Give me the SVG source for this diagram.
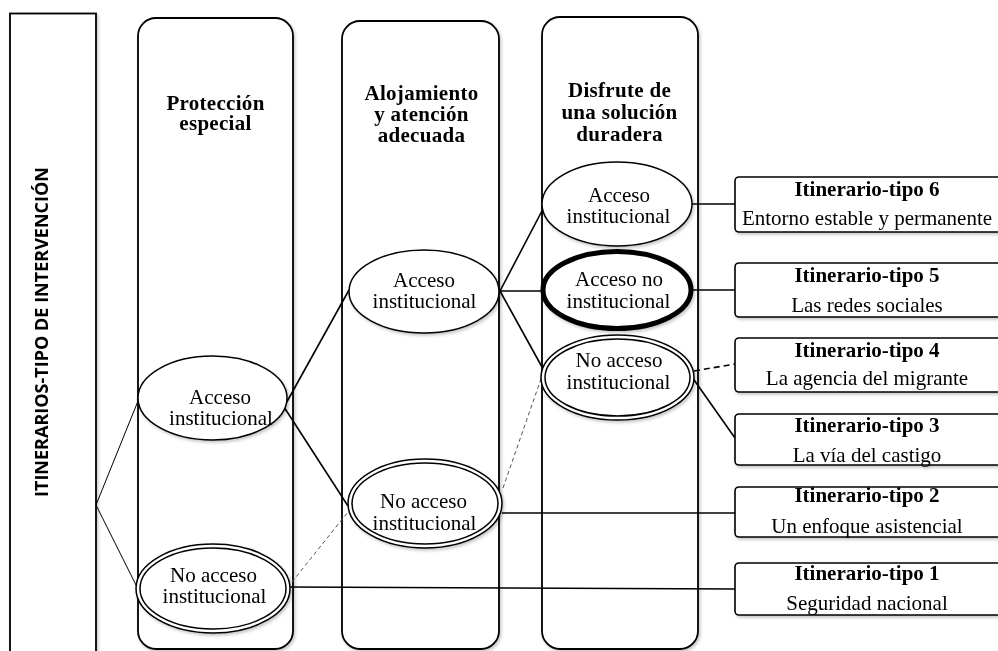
<svg xmlns="http://www.w3.org/2000/svg" width="998" height="651" viewBox="0 0 998 651">
<defs>
<filter id="sh" x="-10%" y="-10%" width="130%" height="130%">
<feDropShadow dx="1.5" dy="2" stdDeviation="1.5" flood-color="#000" flood-opacity="0.22"/>
</filter>
<style>
.col{fill:#fff;stroke:#000;stroke-width:1.8}
.el{fill:#fff;stroke:#000;stroke-width:1.5}
.thick{fill:#fff;stroke:#000;stroke-width:5}
.box{fill:#fff;stroke:#000;stroke-width:1.6}
.hd{font-family:"Liberation Serif","Times New Roman",serif;font-weight:bold;font-size:21px;text-anchor:middle;fill:#000;letter-spacing:0.3px}
.tx{font-family:"Liberation Serif","Times New Roman",serif;font-size:21px;text-anchor:middle;fill:#000}
.bt{font-family:"Liberation Serif","Times New Roman",serif;font-weight:bold;font-size:21px;text-anchor:middle;fill:#000}
.vt{font-family:"Open Sans","DejaVu Sans",sans-serif;font-weight:bold;font-size:17px;text-anchor:middle;fill:#000}
.ln{fill:none;stroke:#000;stroke-width:1.6}
.thin{fill:none;stroke:#000;stroke-width:1}
.dg{fill:none;stroke:#555;stroke-width:1;stroke-dasharray:4 3}
.db{fill:none;stroke:#000;stroke-width:1.6;stroke-dasharray:6 4}
</style>
</defs>

<g id="title-bar" filter="url(#sh)">
<rect class="col" x="10" y="13.5" width="86" height="660"/>
<text class="vt" transform="translate(48,332) rotate(-90)" textLength="330" lengthAdjust="spacingAndGlyphs">ITINERARIOS-TIPO DE INTERVENCIÓN</text>
</g>

<g id="col-proteccion" filter="url(#sh)">
<rect class="col" x="138" y="18" width="155" height="631" rx="18"/>
<text class="hd" x="215.5" y="110">Protección</text>
<text class="hd" x="215.5" y="130">especial</text>
</g>

<g id="col-alojamiento" filter="url(#sh)">
<rect class="col" x="342" y="21" width="157" height="628" rx="18"/>
<text class="hd" x="421.5" y="100">Alojamiento</text>
<text class="hd" x="421.5" y="121">y atención</text>
<text class="hd" x="421.5" y="142">adecuada</text>
</g>

<g id="col-disfrute" filter="url(#sh)">
<rect class="col" x="542" y="17" width="156" height="632" rx="18"/>
<text class="hd" x="619.5" y="97">Disfrute de</text>
<text class="hd" x="619.5" y="119">una solución</text>
<text class="hd" x="619.5" y="141">duradera</text>
</g>

<g id="connectors">
<line class="thin" x1="96" y1="505" x2="138" y2="401"/>
<line class="thin" x1="96" y1="505" x2="137" y2="587"/>
<line class="ln" x1="284" y1="407" x2="349" y2="290"/>
<line class="ln" x1="284" y1="407" x2="348" y2="506"/>
<line class="dg" x1="292" y1="582" x2="348" y2="512"/>
<line class="ln" x1="290" y1="587" x2="735" y2="589"/>
<line class="ln" x1="500" y1="291" x2="543" y2="209"/>
<line class="ln" x1="500" y1="291" x2="541" y2="291"/>
<line class="ln" x1="500" y1="291" x2="542" y2="367"/>
<line class="dg" x1="503" y1="488" x2="542" y2="376"/>
<line class="ln" x1="502" y1="513" x2="735" y2="513"/>
<line class="ln" x1="692" y1="204" x2="735" y2="204"/>
<line class="ln" x1="693" y1="290" x2="735" y2="290"/>
<line class="db" x1="694" y1="371" x2="735" y2="364"/>
<line class="ln" x1="692" y1="377" x2="735" y2="438"/>
</g>

<g id="n-p-acceso" filter="url(#sh)">
<ellipse class="el" cx="212.5" cy="398" rx="74.5" ry="42"/>
<text class="tx" x="220" y="404">Acceso</text>
<text class="tx" x="221" y="425">institucional</text>
</g>

<g id="n-p-noacceso" filter="url(#sh)">
<ellipse class="el" cx="213" cy="588.5" rx="77" ry="44.5"/>
<ellipse class="el" cx="213" cy="588.5" rx="73" ry="40.5"/>
<text class="tx" x="213.5" y="582">No acceso</text>
<text class="tx" x="214.5" y="603">institucional</text>
</g>

<g id="n-a-acceso" filter="url(#sh)">
<ellipse class="el" cx="424" cy="291.5" rx="75" ry="41.5"/>
<text class="tx" x="424" y="287">Acceso</text>
<text class="tx" x="424.5" y="308">institucional</text>
</g>

<g id="n-a-noacceso" filter="url(#sh)">
<ellipse class="el" cx="425" cy="503.5" rx="77" ry="44.5"/>
<ellipse class="el" cx="425" cy="503.5" rx="73" ry="40.5"/>
<text class="tx" x="423.5" y="508">No acceso</text>
<text class="tx" x="424.5" y="530">institucional</text>
</g>

<g id="n-d-acceso" filter="url(#sh)">
<ellipse class="el" cx="617" cy="204" rx="75" ry="42"/>
<text class="tx" x="619" y="202">Acceso</text>
<text class="tx" x="618.5" y="223">institucional</text>
</g>

<g id="n-d-accesono" filter="url(#sh)">
<ellipse class="thick" cx="617" cy="290" rx="74" ry="38.5"/>
<text class="tx" x="619" y="286">Acceso no</text>
<text class="tx" x="618.5" y="308">institucional</text>
</g>

<g id="n-d-noacceso" filter="url(#sh)">
<ellipse class="el" cx="617.5" cy="377.5" rx="76.5" ry="42.5"/>
<ellipse class="el" cx="617.5" cy="377.5" rx="72.5" ry="38.5"/>
<text class="tx" x="619" y="367">No acceso</text>
<text class="tx" x="618.5" y="389">institucional</text>
</g>

<g id="it6" filter="url(#sh)">
<rect class="box" x="735" y="177" width="275" height="55" rx="4"/>
<text class="bt" x="867" y="196">Itinerario-tipo 6</text>
<text class="tx" x="867" y="225">Entorno estable y permanente</text>
</g>
<g id="it5" filter="url(#sh)">
<rect class="box" x="735" y="263" width="275" height="54" rx="4"/>
<text class="bt" x="867" y="282">Itinerario-tipo 5</text>
<text class="tx" x="867" y="312">Las redes sociales</text>
</g>
<g id="it4" filter="url(#sh)">
<rect class="box" x="735" y="338" width="275" height="54" rx="4"/>
<text class="bt" x="867" y="357">Itinerario-tipo 4</text>
<text class="tx" x="867" y="385">La agencia del migrante</text>
</g>
<g id="it3" filter="url(#sh)">
<rect class="box" x="735" y="414" width="275" height="51" rx="4"/>
<text class="bt" x="867" y="432">Itinerario-tipo 3</text>
<text class="tx" x="867" y="462">La vía del castigo</text>
</g>
<g id="it2" filter="url(#sh)">
<rect class="box" x="735" y="487" width="275" height="50" rx="4"/>
<text class="bt" x="867" y="502">Itinerario-tipo 2</text>
<text class="tx" x="867" y="533">Un enfoque asistencial</text>
</g>
<g id="it1" filter="url(#sh)">
<rect class="box" x="735" y="563" width="275" height="52" rx="4"/>
<text class="bt" x="867" y="580">Itinerario-tipo 1</text>
<text class="tx" x="867" y="610">Seguridad nacional</text>
</g>
</svg>
